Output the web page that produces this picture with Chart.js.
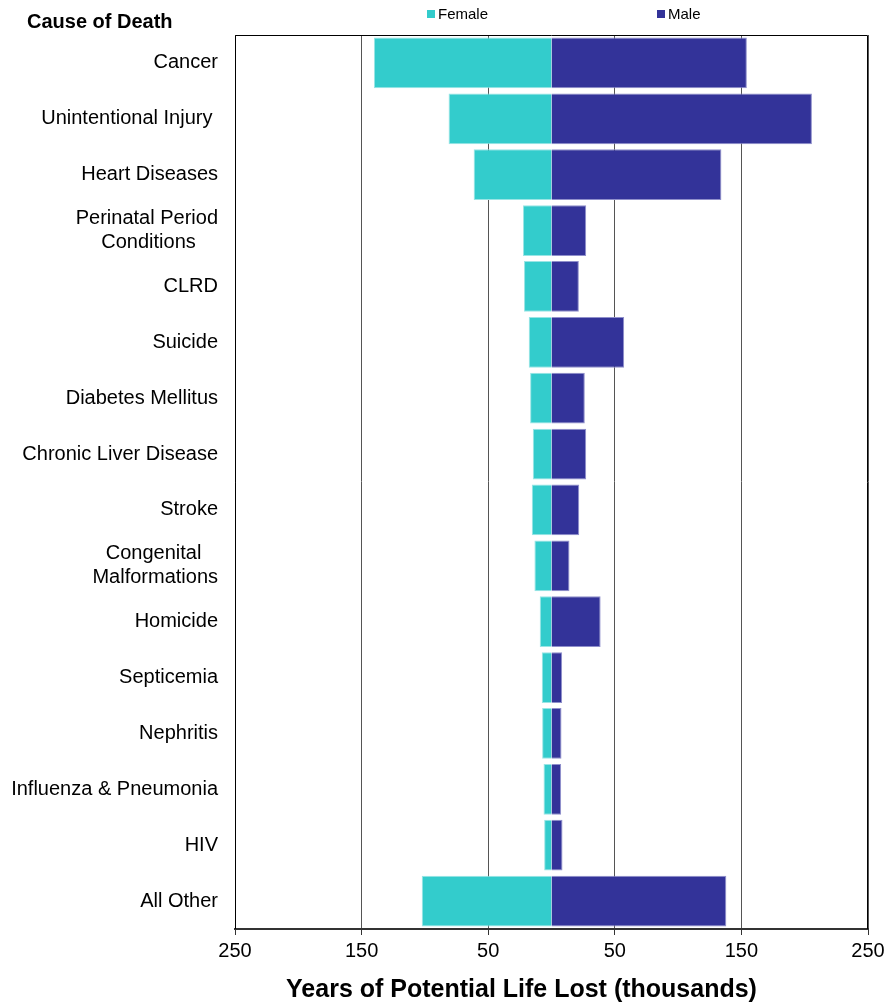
<!DOCTYPE html>
<html>
<head>
<meta charset="utf-8">
<script src="https://cdn.jsdelivr.net/npm/chart.js@4/dist/chart.umd.min.js"></script>
<style>
	body { margin: 0; background: #fff; font-family: "Liberation Sans", Arial, sans-serif; }
	.wrap { position: relative; width: 886px; height: 1007px; }
	.head { position: absolute; left: 27px; top: 10px; font-size: 20px; font-weight: bold; color: #000; }
	.x-title { position: absolute; left: 0; width: 1043px; top: 974px; text-align: center; font-size: 25px; font-weight: bold; color: #000; }
	.legend-item { position: absolute; top: 5px; font-size: 15px; color: #000; line-height: 18px; }
	.legend-item i { display: inline-block; width: 8px; height: 8px; margin-right: 3px; vertical-align: 1px; }
</style>
</head>
<body>
<div class="wrap">
	<canvas id="yll_chart" width="886" height="1007"></canvas>
	<div class="head">Cause of Death</div>
	<div class="x-title">Years of Potential Life Lost (thousands)</div>
	<div id="legend"></div>
</div>
<script>
const causes = [
	'Cancer',
	'Unintentional Injury ',
	'Heart Diseases',
	['Perinatal Period', 'Conditions    '],
	'CLRD',
	'Suicide',
	'Diabetes Mellitus',
	'Chronic Liver Disease',
	'Stroke',
	['Congenital   ', 'Malformations'],
	'Homicide',
	'Septicemia',
	'Nephritis',
	'Influenza & Pneumonia',
	'HIV',
	'All Other'
];
// thousands of years, female drawn to the left
const female = [140.3, 81.3, 61.5, 22.5, 21.7, 18.0, 16.9, 14.8, 15.6, 13.5, 9.3, 7.7, 7.4, 6.3, 5.8, 102.5];
const male = [154.3, 205.7, 134.2, 27.4, 21.6, 57.4, 26.3, 27.4, 21.9, 14.2, 38.8, 8.4, 7.9, 7.6, 8.7, 138.1];
const x_ticks = [-250, -150, -50, 50, 150, 250];

const font = '"Liberation Sans", Arial, sans-serif';

const frame = {
	id: 'frame',
	afterDraw(chart) {
		const {ctx, chartArea: a} = chart;
		ctx.save();
		ctx.strokeStyle = '#000';
		ctx.lineWidth = 1;
		ctx.beginPath();
		ctx.moveTo(a.left + 0.5, a.bottom);
		ctx.lineTo(a.left + 0.5, a.top + 0.5);
		ctx.lineTo(a.right - 0.5, a.top + 0.5);
		ctx.lineTo(a.right - 0.5, a.bottom);
		ctx.stroke();
		ctx.restore();
	}
};

const chart = new Chart(document.getElementById('yll_chart'), {
	type: 'bar',
	data: {
		labels: causes,
		datasets: [
			{
				label: 'Female',
				data: female.map(v => -v),
				backgroundColor: '#33CCCC',
				borderColor: '#99E5E5',
				borderWidth: 1
			},
			{
				label: 'Male',
				data: male,
				backgroundColor: '#333399',
				borderColor: '#8F8FCB',
				borderWidth: 1
			}
		]
	},
	options: {
		indexAxis: 'y',
		responsive: false,
		animation: false,
		layout: { padding: { top: 35, right: 18, bottom: 0, left: 0 } },
		datasets: { bar: { barPercentage: 0.91, categoryPercentage: 1 } },
		plugins: {
			legend: { display: false },
			tooltip: { enabled: false }
		},
		scales: {
			x: {
				stacked: true,
				min: -250,
				max: 250,
				afterBuildTicks(scale) {
					scale.ticks = x_ticks.map(v => ({ value: v }));
				},
				afterFit(scale) {
					scale.height = 78;
					scale.paddingLeft = 0;
					scale.paddingRight = 0;
				},
				ticks: {
					callback: v => Math.abs(v),
					color: '#000',
					padding: 4,
					font: { family: font, size: 20 }
				},
				grid: { color: '#555', tickLength: 6, tickColor: '#333' },
				border: { color: '#333', width: 2 }
			},
			y: {
				stacked: true,
				afterFit(scale) {
					scale.width = 235;
				},
				ticks: {
					color: '#000',
					padding: 17,
					font: { family: font, size: 20 }
				},
				grid: { display: false, drawTicks: false },
				border: { display: false }
			}
		}
	},
	plugins: [frame]
});

function build_legend() {
	const spots = [427, 657];
	const div = document.getElementById('legend');
	chart.data.datasets.forEach((ds, i) => {
		const item = document.createElement('span');
		item.className = 'legend-item';
		item.style.left = spots[i] + 'px';
		item.innerHTML = `<i style="background:${ds.backgroundColor}"></i>${ds.label}`;
		div.appendChild(item);
	});
}
build_legend();
</script>
</body>
</html>
